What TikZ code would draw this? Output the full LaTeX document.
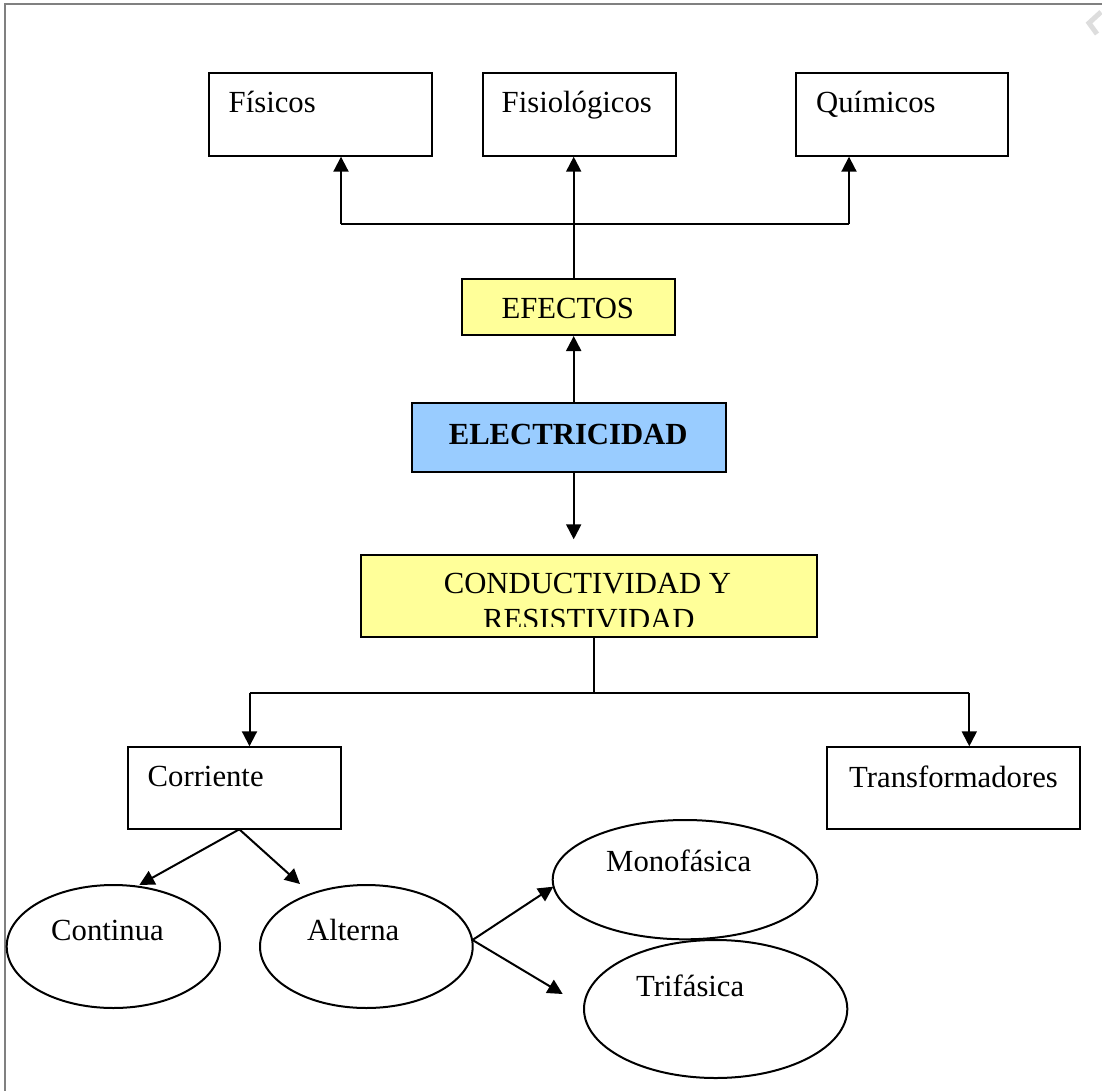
\documentclass[tikz,border=0pt]{standalone}
\usepackage{fontspec}
\setmainfont{Liberation Serif}
\usetikzlibrary{arrows.meta,shapes.geometric}
\definecolor{boxyellow}{HTML}{FFFF99}
\definecolor{boxblue}{HTML}{99CCFF}
\definecolor{framegray}{HTML}{808080}
\definecolor{wmgray}{HTML}{DDDDDD}
\begin{document}
\begin{tikzpicture}[x=1pt,y=-1pt,
  box/.style={draw, line width=2pt, inner sep=0pt, rectangle},
  oval/.style={draw, line width=2pt, inner sep=0pt, ellipse},
  txt/.style={inner sep=0pt, anchor=base west, font=\fontsize{30.7}{36.8}\selectfont},
  ctxt/.style={inner sep=0pt, anchor=base, font=\fontsize{30.7}{36.8}\selectfont},
  arr/.style={line width=2pt, -{Triangle[length=15pt,width=15pt]}},
  ln/.style={line width=2pt}]
\useasboundingbox (0,0) rectangle (1102,1091);
\fill[white] (0,0) rectangle (1102,1091);
% page frame and watermark fragment
\draw[framegray, line width=1.6pt] (5,1091) -- (5,4) -- (1102,4);
\draw[wmgray, line width=5pt] (1101,12) -- (1089,23) -- (1097,34);

% top boxes
\node[box, minimum width=223pt, minimum height=82.4pt] (fisicos) at (320.8,114.5) {};
\node[box, minimum width=193.3pt, minimum height=82.4pt] (fisio) at (579.35,114.5) {};
\node[box, minimum width=212pt, minimum height=82.4pt] (quim) at (902,114.5) {};
\node[txt] (fisicosT) at (228.5,112.3) {Físicos};
\node[txt] (fisioT) at (501.5,112.3) {Fisiológicos};
\node[txt] (quimT) at (816,112.3) {Químicos};

% EFECTOS
\node[box, fill=boxyellow, minimum width=213.3pt, minimum height=55.7pt] (efectos) at (568.65,307.15) {};
\node[ctxt] (efectosT) at (567.8,318.3) {EFECTOS};

% ELECTRICIDAD
\node[box, fill=boxblue, minimum width=314pt, minimum height=69pt] (elec) at (568.7,437.8) {};
\node[ctxt, font=\fontsize{30.7}{36.8}\selectfont\bfseries] (elecT) at (568.2,444) {ELECTRICIDAD};

% CONDUCTIVIDAD Y RESISTIVIDAD
\node[box, fill=boxyellow, minimum width=456pt, minimum height=81.7pt] (cond) at (588.7,595.85) {};
\begin{scope}
  \clip (362,556) rectangle (815.5,626);
  \node[ctxt] (condT1) at (587.5,593.3) {CONDUCTIVIDAD Y};
  \node[ctxt] (condT2) at (588.8,629.9) {RESISTIVIDAD};
\end{scope}

% Corriente / Transformadores
\node[box, minimum width=212.7pt, minimum height=82pt] (corr) at (234.65,788.3) {};
\node[box, minimum width=253.3pt, minimum height=82pt] (trans) at (953.35,788.3) {};
\node[txt] (corrT) at (147.5,786.7) {Corriente};
\node[txt] (transT) at (849,787.3) {Transformadores};

% ellipses
\node[oval, minimum width=213.3pt, minimum height=123pt] (cont) at (113.35,946.5) {};
\node[oval, minimum width=212.7pt, minimum height=123pt] (alt) at (366.35,946.5) {};
\node[oval, minimum width=264.6pt, minimum height=119.3pt] (mono) at (685,879.65) {};
\node[oval, minimum width=263.3pt, minimum height=138pt] (tri) at (715.65,1009) {};
\node[txt] (contT) at (51,940) {Continua};
\node[txt] (altT) at (307,940) {Alterna};
\node[txt] (monoT) at (606,871.5) {Monofásica};
\node[txt] (triT) at (636,996.7) {Trifásica};

% connectors: top
\coordinate (hL) at (341,224);
\coordinate (hC) at (573.7,224);
\coordinate (hR) at (849,224);
\draw[ln] (hL) -- (hR);
\draw[arr] (hL) -- (hL |- fisicos.south);
\draw[arr] (hR) -- (hR |- quim.south);
\draw[arr] (efectos.north -| hC) -- (fisio.south -| hC);
\draw[arr] (elec.north -| hC) -- (efectos.south -| hC);
\coordinate (dn) at (573.7,539.3);
\draw[arr] (elec.south -| dn) -- (dn);

% connectors: conductividad
\coordinate (jC) at (594.3,692.7);
\coordinate (jL) at (249.5,692.7);
\coordinate (jR) at (969.3,692.7);
\draw[ln] (cond.south -| jC) -- (jC);
\draw[ln] (jL) -- (jR);
\draw[arr] (jL) -- (jL |- corr.north);
\draw[arr] (jR) -- (jR |- trans.north);

% connectors: corriente
\coordinate (cS) at (239.3,829.3);
\coordinate (contTip) at (139.3,885);
\coordinate (altTip) at (300,884);
\draw[arr] (cS) -- (contTip);
\draw[arr] (cS) -- (altTip);

% connectors: alterna
\coordinate (aE) at (472.5,940);
\coordinate (monoTip) at (553.3,886.7);
\coordinate (triTip) at (562.7,994);
\draw[arr] (aE) -- (monoTip);
\draw[arr] (aE) -- (triTip);
\end{tikzpicture}
\end{document}
